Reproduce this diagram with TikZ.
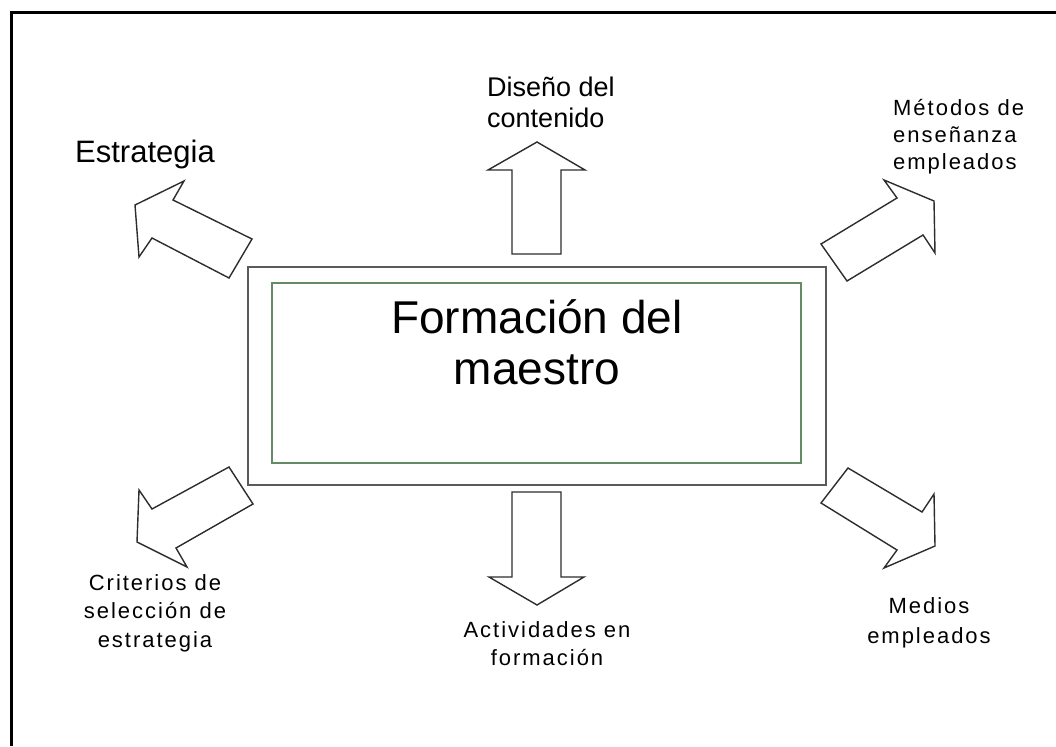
\documentclass[tikz,border=0pt]{standalone}
\usepackage{fontspec}
\setmainfont{Liberation Sans}
\newfontfamily\spacedfont[LetterSpace=9]{Liberation Sans}
\definecolor{boxgreen}{RGB}{100,140,100}
\definecolor{boxgray}{RGB}{90,90,90}
\definecolor{arrowgray}{RGB}{45,45,45}
\begin{document}
\begin{tikzpicture}[x=1pt,y=-1pt,
  blockarrow/.style={draw=arrowgray, line width=1.4pt, fill=white, line join=miter},
  smalllbl/.style={inner sep=0pt, font=\spacedfont\fontsize{22}{28}\selectfont},
  biglbl/.style={inner sep=0pt},
  frameline/.style={line width=2.8pt, black}]
\useasboundingbox (0,0) rectangle (1056,746);
% frame
\coordinate (ftl) at (11.5,12.5);
\coordinate (ftr) at (1056,12.5);
\coordinate (fbl) at (11.5,746);
\draw[frameline] (ftr) -- (ftl) -- (fbl);
% central boxes
\node[draw=boxgray, line width=1.8pt, minimum width=578pt, minimum height=218pt, inner sep=0pt] (outer) at (537,376) {};
\node[draw=boxgreen, line width=1.8pt, minimum width=529pt, minimum height=180pt, inner sep=0pt] (inner) at (536.5,373) {};
\node[biglbl, align=center, anchor=base, font=\fontsize{46}{51}\selectfont] (title) at (537,384) {Formación del\\maestro};
% arrows
\draw[blockarrow] (512,254) -- (512,170) -- (488,170) -- (537,142) -- (585,170) -- (561,170) -- (561,254) -- cycle;
\draw[blockarrow] (512,492) -- (512,577) -- (489,577) -- (537,605) -- (584,577) -- (561,577) -- (561,492) -- cycle;
\draw[blockarrow] (252,239) -- (173,200) -- (184,181) -- (135,205) -- (139,257) -- (152,238) -- (229,278) -- cycle;
\draw[blockarrow] (821,244) -- (897,198) -- (884,180) -- (934,201) -- (935,253) -- (923,235) -- (847,281) -- cycle;
\draw[blockarrow] (848,468) -- (821,503) -- (897,550) -- (884,568) -- (935,546) -- (934,494) -- (922,512) -- cycle;
\draw[blockarrow] (229,467) -- (253,504) -- (176,548) -- (187,567) -- (137,542) -- (139,490) -- (152,509) -- cycle;
% labels
\node[biglbl, anchor=base west, font=\fontsize{31}{36}\selectfont] (estr) at (75,163) {Estrategia};
\node[biglbl, anchor=base west, align=left, font=\fontsize{27}{31}\selectfont] (dis) at (487,128) {Diseño del\\contenido};
\node[smalllbl, anchor=base west, align=left, font=\spacedfont\fontsize{22}{27}\selectfont] (met) at (893,170) {Métodos de\\enseñanza\\empleados};
\node[smalllbl, anchor=base, align=center, font=\spacedfont\fontsize{22}{30}\selectfont] (med) at (929,643) {Medios\\empleados};
\node[smalllbl, anchor=base, align=center, font=\spacedfont\fontsize{22}{28.5}\selectfont] (crit) at (155,647) {Criterios de\\selección de\\estrategia};
\node[smalllbl, anchor=base, align=center, font=\spacedfont\fontsize{22}{28}\selectfont] (act) at (547,665) {Actividades en\\formación};
\end{tikzpicture}
\end{document}
